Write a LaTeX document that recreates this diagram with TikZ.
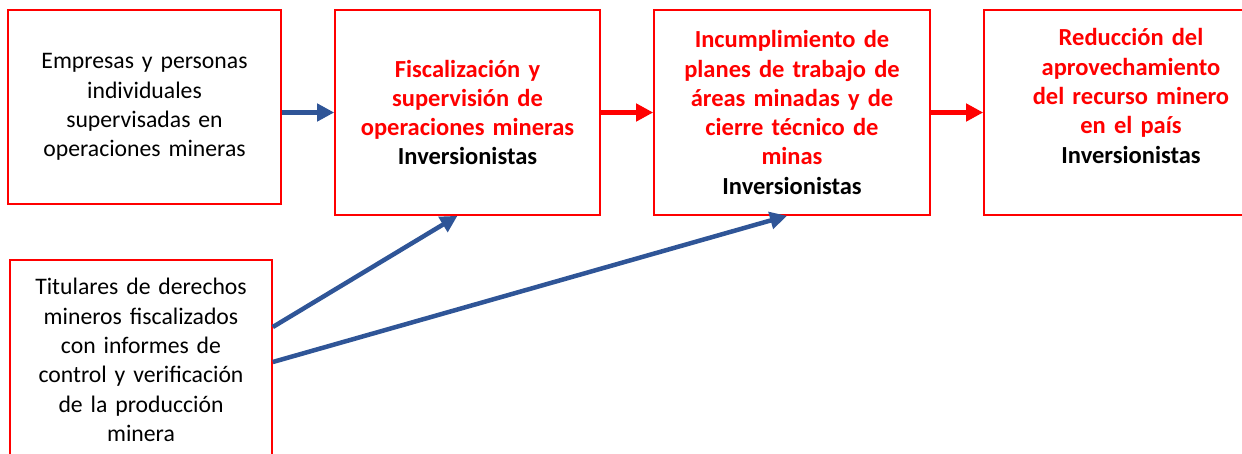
\documentclass[tikz,border=0pt]{standalone}
\usepackage{fontspec}
\setmainfont{Carlito}
\usetikzlibrary{arrows.meta,positioning,calc}
\definecolor{cred}{HTML}{FF0000}
\definecolor{cblue}{HTML}{2F5597}
\newcommand{\hd}[1]{\textcolor{cred}{\textbf{#1}}}
\tikzset{
  box/.style={draw=cred, line width=1.6pt, align=center, inner sep=4pt, font=\fontsize{24.5}{29.3}\selectfont},
  srcn/.style={box, font=\fontsize{23.7}{29.3}\selectfont},
  effn/.style={box, minimum height=205pt},
  pre/.style={-{Triangle[length=17pt,width=17pt]}, line width=4.5pt},
  bluepre/.style={pre, draw=cblue},
  redpre/.style={pre, draw=cred},
}
\begin{document}
\begin{tikzpicture}[x=1pt,y=1pt]
\useasboundingbox (0,0) rectangle (1242,-453);
\node[srcn, minimum width=273pt, text width=262pt, minimum height=194pt] (emp) at (144.5,-107)
  {Empresas y personas\\individuales\\supervisadas en\\operaciones mineras};
\node[effn, minimum width=265pt, text width=254pt] (fisc) at (467.5,-112.5)
  {\hd{Fiscalización y}\\\hd{supervisión de}\\\hd{operaciones mineras}\\\textbf{Inversionistas}};
\node[effn, minimum width=276pt, text width=265pt] (inc) at (792,-112.5)
  {\hd{Incumplimiento de}\\\hd{planes de trabajo de}\\\hd{áreas minadas y de}\\\hd{cierre técnico de}\\\hd{minas}\\\textbf{Inversionistas}};
\node[effn, minimum width=294pt, text width=283pt] (redu) at (1131,-112.5)
  {\hd{Reducción del}\\\hd{aprovechamiento}\\\hd{del recurso minero}\\\hd{en el país}\\\textbf{Inversionistas}\hspace*{26pt}\\[3.7pt]~};
\node[srcn, minimum width=262pt, text width=251pt, minimum height=200pt] (tit) at (141,-360)
  {Titulares de derechos\\mineros fiscalizados\\con informes de\\control y verificación\\de la producción\\minera};
\draw[bluepre] (emp.east |- fisc) -- (fisc.west);
\draw[redpre] (fisc) -- (inc);
\draw[redpre] (inc) -- (redu);
\draw[bluepre] ([yshift=33pt]tit.east) -- ([xshift=-10pt]fisc.south);
\draw[bluepre] ([yshift=-2pt]tit.east) -- ([xshift=-5pt]inc.south);
\end{tikzpicture}
\end{document}
